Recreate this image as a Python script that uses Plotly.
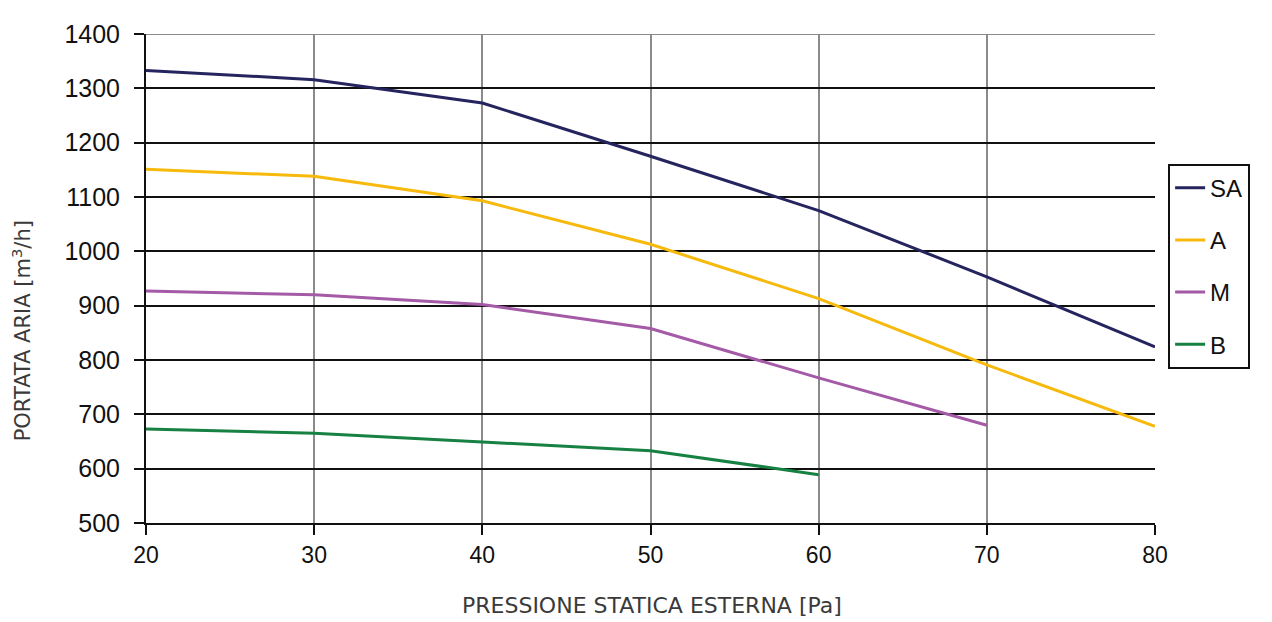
import plotly.graph_objects as go

pressione = [20, 30, 40, 50, 60, 70, 80]
sa = [1333, 1316, 1273, 1175, 1075, 953, 824]
a = [1151, 1138, 1093, 1013, 913, 791, 678]
pressione_m = [20, 30, 40, 50, 60, 70]
m = [927, 920, 902, 858, 767, 680]
pressione_b = [20, 30, 40, 50, 60]
b = [673, 665, 649, 633, 589]

x_title = "PRESSIONE STATICA ESTERNA [Pa]"
y_title = "PORTATA ARIA [m<sup>3</sup>/h]"

series = [
    ("SA", pressione, sa, "#25245e"),
    ("A", pressione, a, "#f6b90c"),
    ("M", pressione_m, m, "#a45aa6"),
    ("B", pressione_b, b, "#178043"),
]

fig = go.Figure()
for name, xs, ys, col in series:
    fig.add_trace(go.Scatter(x=xs, y=ys, name=name, mode="lines",
                             line=dict(color=col, width=3), legendgroup=name))

fig.update_layout(
    width=1272, height=622,
    margin=dict(l=138, r=125, t=15, b=107),
    paper_bgcolor="white", plot_bgcolor="white",
    font=dict(family="Liberation Sans, Arial, sans-serif", color="#111", size=23),
    legend=dict(x=1.013, y=0.735, xanchor="left", yanchor="top",
                bordercolor="#111", borderwidth=2, tracegroupgap=18,
                font=dict(size=24, color="#111"), bgcolor="white"),
    showlegend=True,
    annotations=[
        dict(text=x_title, xref="paper", yref="paper", x=0.5015, y=-0.168,
             xanchor="center", yanchor="middle", showarrow=False,
             font=dict(family="DejaVu Sans, sans-serif", size=22, color="#3a3a3a")),
        dict(text=y_title, xref="paper", yref="paper", x=-0.1229, y=0.394,
             xanchor="center", yanchor="middle", showarrow=False, textangle=-90,
             font=dict(family="DejaVu Sans, sans-serif", size=21, color="#3a3a3a")),
    ],
    shapes=[
        dict(type="line", xref="paper", yref="y", x0=0, x1=1, y0=1400, y1=1400,
             line=dict(color="#8a8a8a", width=2)),
    ],
)
fig.update_xaxes(range=[20, 80], tickvals=pressione, showgrid=True, gridcolor="#8a8a8a", gridwidth=2,
                 showline=True, linecolor="#111", linewidth=2, ticks="outside", ticklen=10,
                 tickcolor="#111", tickwidth=2, zeroline=False, tickfont=dict(size=23))
fig.update_yaxes(range=[500, 1400], dtick=100, showgrid=True, gridcolor="#111", gridwidth=2,
                 showline=True, linecolor="#111", linewidth=2, ticks="outside", ticklen=10,
                 tickcolor="#111", tickwidth=2, zeroline=False, ticklabelstandoff=9,
                 tickfont=dict(size=25))

fig.write_html("out.html")
